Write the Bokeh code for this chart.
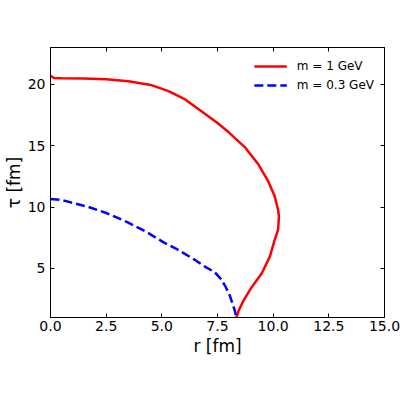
from bokeh.plotting import figure
from bokeh.models import Range1d, FixedTicker, Legend, LegendItem, LinearAxis
from bokeh.embed import file_html
from bokeh.resources import INLINE

# Freeze-out surfaces
r_m1 = [0.0, 0.15, 0.5, 1.5, 2.5, 3.5, 4.5, 5.3, 6.05, 6.93, 7.5, 8.03, 8.76, 9.34, 9.78,
        10.07, 10.22, 10.26, 10.22, 10.07, 9.85, 9.49, 9.05, 8.68, 8.46, 8.35]
tau_m1 = [20.7, 20.52, 20.5, 20.48, 20.42, 20.25, 19.95, 19.45, 18.77, 17.6, 16.85, 16.05,
          14.82, 13.46, 12.09, 10.87, 9.78, 9.23, 8.14, 7.33, 5.96, 4.6, 3.51, 2.42, 1.6, 1.0]

r_m03 = [0.0, 0.4, 0.79, 1.67, 2.54, 3.42, 4.3, 5.1, 5.61, 6.49, 6.93, 7.37, 7.65, 7.88,
         8.05, 8.17, 8.28, 8.35]
tau_m03 = [10.65, 10.6, 10.44, 10.03, 9.49, 8.8, 7.98, 7.1, 6.64, 5.69, 5.15, 4.7, 4.15, 3.45,
           2.8, 2.14, 1.55, 1.0]

x_ticks = [0.0, 2.5, 5.0, 7.5, 10.0, 12.5, 15.0]
y_ticks = [5, 10, 15, 20]
x_lim = (0, 15)
y_lim = (1, 23)
labels = ["m = 1 GeV", "m = 0.3 GeV"]

FONT = "DejaVu Sans"
TICK = 4

p = figure(width=400, height=400, output_backend="svg", toolbar_location=None,
           x_range=Range1d(*x_lim), y_range=Range1d(*y_lim),
           min_border_left=42, min_border_right=16, min_border_top=47, min_border_bottom=83,
           x_axis_label="r [fm]", y_axis_label="τ [fm]")
p.grid.visible = False
p.outline_line_color = "black"
p.outline_line_width = 1
p.background_fill_color = "white"
p.border_fill_color = "white"

p.xaxis.ticker = FixedTicker(ticks=x_ticks)
p.yaxis.ticker = FixedTicker(ticks=y_ticks)
p.xaxis.major_label_overrides = {t: f"{t:.1f}" for t in x_ticks}

for ax in [p.xaxis[0], p.yaxis[0]]:
    ax.major_tick_in = TICK
    ax.major_tick_out = 0
    ax.major_tick_line_color = "black"
    ax.minor_tick_line_color = None
    ax.axis_line_color = "black"
    ax.major_label_text_font = FONT
    ax.major_label_text_font_size = "14px"
    ax.major_label_text_color = "black"
    ax.axis_label_text_font = FONT
    ax.axis_label_text_font_size = "17px"
    ax.axis_label_text_font_style = "normal"
    ax.axis_label_text_color = "black"
p.xaxis.major_label_standoff = 3
p.xaxis.axis_label_standoff = 2
p.yaxis.major_label_standoff = 5
p.yaxis.axis_label_standoff = 1

# mirrored inward ticks on the top and right edges, without labels
for ticks, side in [(x_ticks, "above"), (y_ticks, "right")]:
    ax = LinearAxis(ticker=FixedTicker(ticks=ticks), major_tick_in=TICK, major_tick_out=0,
                    major_tick_line_color="black", minor_tick_line_color=None,
                    axis_line_color="black", major_label_text_color=None,
                    major_label_text_font_size="1px", major_label_standoff=0)
    p.add_layout(ax, side)

l1 = p.line(r_m1, tau_m1, line_color="#ff0000", line_width=2.5)
l2 = p.line(r_m03, tau_m03, line_color="#0000ff", line_width=2.5, line_dash="9 4")

legend = Legend(items=[LegendItem(label=labels[0], renderers=[l1]),
                       LegendItem(label=labels[1], renderers=[l2])],
                location="top_right", border_line_alpha=0, background_fill_alpha=0,
                label_text_font=FONT, label_text_font_size="12px", label_text_color="black",
                glyph_width=33, glyph_height=18, label_height=18, spacing=1,
                label_standoff=10, padding=10, margin=0)
p.add_layout(legend)

open("out.html", "w").write(file_html(p, INLINE))
